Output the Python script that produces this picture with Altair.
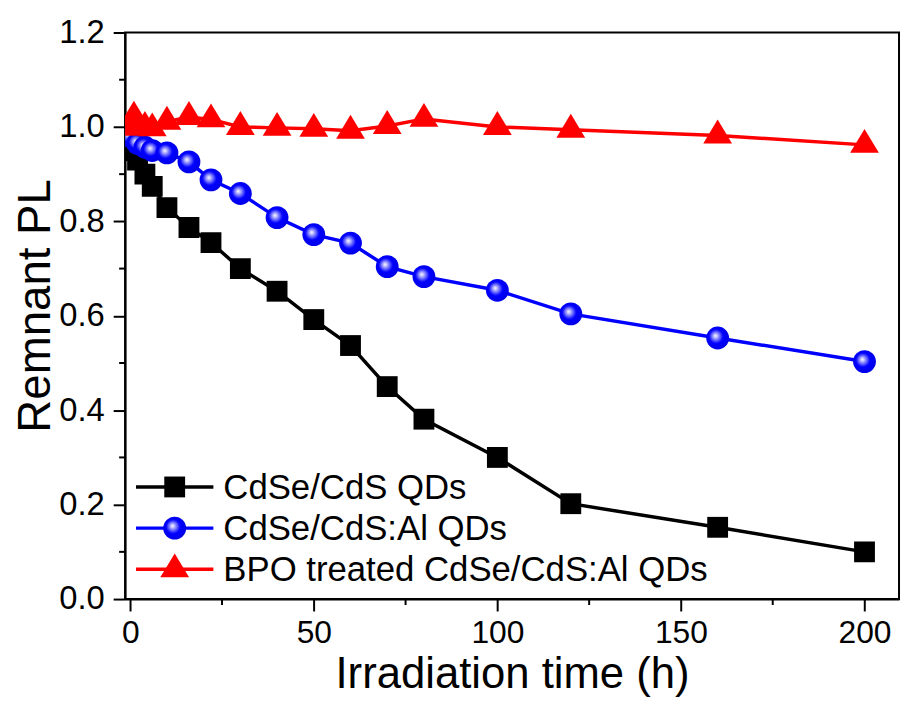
import altair as alt
import pandas as pd

series = ["CdSe/CdS QDs", "CdSe/CdS:Al QDs", "BPO treated CdSe/CdS:Al QDs"]
colors = ["#000000", "#0000ff", "#ff0000"]

t_black = [0, 2, 4, 6, 10, 16, 22, 30, 40, 50, 60, 70, 80, 100, 120, 160, 200]
pl_black = [0.95, 0.93, 0.90, 0.874, 0.829, 0.787, 0.755, 0.70, 0.652, 0.592,
            0.537, 0.45, 0.381, 0.30, 0.202, 0.152, 0.10]

t_blue = [0, 2, 4, 6, 10, 16, 22, 30, 40, 50, 60, 70, 80, 100, 120, 160, 200]
pl_blue = [0.98, 0.965, 0.957, 0.95, 0.945, 0.926, 0.888, 0.859, 0.808, 0.772,
           0.754, 0.704, 0.683, 0.654, 0.604, 0.553, 0.503]

t_red = [0, 1, 4, 6, 10, 16, 22, 30, 40, 50, 60, 70, 80, 100, 120, 160, 200]
pl_red = [0.998, 1.022, 1.0, 0.997, 1.011, 1.021, 1.016, 1.0, 0.998, 0.996,
          0.992, 1.002, 1.017, 1.0, 0.994, 0.982, 0.962]

x_major = [0, 50, 100, 150, 200]
x_minor = [25, 75, 125, 175]
y_major = [0.0, 0.2, 0.4, 0.6, 0.8, 1.0, 1.2]
y_minor = [0.1, 0.3, 0.5, 0.7, 0.9, 1.1]

FONT = "Liberation Sans"
TRI = "M0,-1.107L1,0.553L-1,0.553Z"

frames = []
for name, t, v in zip(series, [t_black, t_blue, t_red], [pl_black, pl_blue, pl_red]):
    frames.append(pd.DataFrame({"series": name, "t": t, "pl": v}))
df = pd.concat(frames, ignore_index=True)
leg = pd.DataFrame({"series": series, "row": list(range(len(series)))})

xs = alt.Scale(domain=[-1.4, 209.4], nice=False, zero=False)
ys = alt.Scale(domain=[0, 1.2], nice=False, zero=False)

x_axis = alt.Axis(values=x_major, title="Irradiation time (h)", tickSize=12,
                  labelPadding=7, labelFontSize=32, titleY=89,
                  titleBaseline="alphabetic", titleFontSize=44)
y_axis = alt.Axis(values=y_major, format=".1f", title="Remnant PL", tickSize=12,
                  labelPadding=9, titleX=-76, titleY=275, titleAngle=270,
                  titleBaseline="alphabetic", titleAlign="center", titleFontSize=46)

blue_grad = alt.RadialGradient(
    gradient="radial",
    stops=[alt.GradientStop(offset=0, color="#ffffff"),
           alt.GradientStop(offset=0.22, color="#9a9aff"),
           alt.GradientStop(offset=0.55, color="#0000ff"),
           alt.GradientStop(offset=1, color="#0000e6")],
    x1=0.4, y1=0.4, r1=0, x2=0.46, y2=0.46, r2=0.56)

marker = [
    dict(shape="square", size=441, fill="#000000"),
    dict(shape="circle", size=529, fill=blue_grad),
    dict(shape=TRI, size=841, fill="#ff0000"),
]

layers = []
for i, name in enumerate(series):
    sub = alt.Chart(df).transform_filter(alt.datum.series == name)
    enc = dict(x=alt.X("t:Q", scale=xs, axis=x_axis),
               y=alt.Y("pl:Q", scale=ys, axis=y_axis))
    layers.append(sub.mark_line(color=colors[i], strokeWidth=3.5, clip=True).encode(**enc))
    layers.append(sub.mark_point(shape=marker[i]["shape"], size=marker[i]["size"],
                                 fill=marker[i]["fill"], filled=True, opacity=1,
                                 strokeWidth=0, clip=True).encode(**enc))

# minor ticks (outside the plot area, shorter than the major ones)
layers.append(alt.Chart(pd.DataFrame({"t": x_minor})).mark_rule(
    color="black", strokeWidth=2).encode(
    x=alt.X("t:Q", scale=xs, axis=x_axis), y=alt.value(571), y2=alt.value(577)))
layers.append(alt.Chart(pd.DataFrame({"pl": y_minor})).mark_rule(
    color="black", strokeWidth=2).encode(
    y=alt.Y("pl:Q", scale=ys, axis=y_axis), x=alt.value(-6), x2=alt.value(0)))

# legend (inside plot, bottom-left)
for i, name in enumerate(series):
    lsub = alt.Chart(leg).transform_filter(alt.datum.series == name).transform_calculate(
        ly="458 + 41.5 * datum.row")
    ly = alt.Y("ly:Q", scale=None)
    layers.append(lsub.mark_rule(color=colors[i], strokeWidth=3.5).encode(
        x=alt.value(11), x2=alt.value(89), y=ly))
    layers.append(lsub.mark_point(shape=marker[i]["shape"], size=marker[i]["size"],
                                  fill=marker[i]["fill"], filled=True, opacity=1,
                                  strokeWidth=0).encode(x=alt.value(50), y=ly))
    layers.append(lsub.mark_text(align="left", baseline="middle", font=FONT,
                                 fontSize=35, color="black", dy=1).encode(
        x=alt.value(99), y=ly, text="series:N"))

chart = alt.layer(*layers).properties(
    width=780, height=571,
    autosize=alt.AutoSizeParams(type="none"),
    padding={"left": 118, "top": 22, "right": 2, "bottom": 97},
    background="white",
).configure_view(stroke="black", strokeWidth=2).configure_axis(
    grid=False, domainColor="black", domainWidth=2, tickColor="black", tickWidth=2,
    labelFont=FONT, labelFontSize=33, labelColor="black",
    titleFont=FONT, titleColor="black", titleFontWeight="normal",
)

chart.save("out.html", embed_options={"renderer": "svg", "actions": False})
